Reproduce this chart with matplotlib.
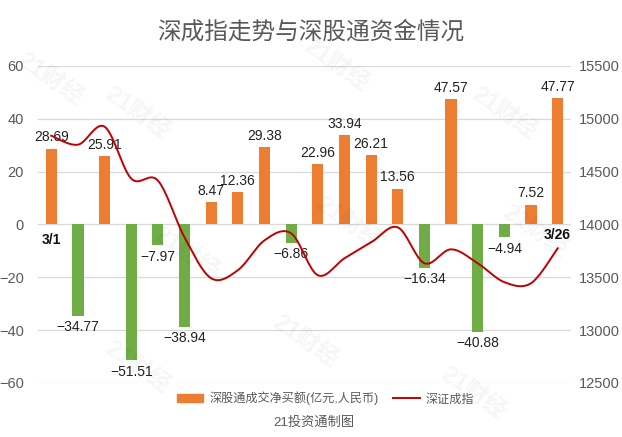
import numpy as np
import matplotlib
matplotlib.use("Agg")
import matplotlib.pyplot as plt

plt.rcParams['font.family'] = ['Liberation Sans', 'Noto Sans CJK SC', 'DejaVu Sans']

# trading days 2021-03-01 .. 03-26
dates = ['3/1', '3/2', '3/3', '3/4', '3/5', '3/8', '3/9', '3/10', '3/11', '3/12',
         '3/15', '3/16', '3/17', '3/18', '3/19', '3/22', '3/23', '3/24', '3/25', '3/26']
net_buy = [28.69, -34.77, 25.91, -51.51, -7.97, -38.94, 8.47, 12.36, 29.38, -6.86,
           22.96, 33.94, 26.21, 13.56, -16.34, 47.57, -40.88, -4.94, 7.52, 47.77]
szci = [14840, 14755, 14925, 14434, 14415, 13877, 13490, 13566, 13849, 13915,
        13519, 13679, 13830, 13972, 13632, 13764, 13632, 13453, 13443, 13774]

bar_name = '深股通成交净买额(亿元,人民币)'
line_name = '深证成指'
title = '深成指走势与深股通资金情况'
source = '21投资通制图'

ORANGE = '#ED7D31'
GREEN = '#70AD47'
RED = '#C00000'
GRAY = '#595959'


def catmull(x, y, n=20):
    # smooth curve through the points, like Excel's smoothed line
    x = np.asarray(x, float)
    y = np.asarray(y, float)
    px = np.concatenate([[x[0]], x, [x[-1]]])
    py = np.concatenate([[y[0]], y, [y[-1]]])
    xs, ys = [], []
    for i in range(1, len(px) - 2):
        t = np.linspace(0, 1, n, endpoint=False)
        for p, out in ((px, xs), (py, ys)):
            p0, p1, p2, p3 = p[i - 1], p[i], p[i + 1], p[i + 2]
            out.extend(0.5 * (2 * p1 + (-p0 + p2) * t
                              + (2 * p0 - 5 * p1 + 4 * p2 - p3) * t ** 2
                              + (-p0 + 3 * p1 - 3 * p2 + p3) * t ** 3))
    xs.append(x[-1])
    ys.append(y[-1])
    return np.array(xs), np.array(ys)


fig = plt.figure(figsize=(6.22, 4.37), dpi=100)
ax = fig.add_axes([0.061, 0.124, 0.857, 0.725])
ax2 = ax.twinx()

x = np.arange(len(dates))
colors = [ORANGE if v >= 0 else GREEN for v in net_buy]
ax.bar(x, net_buy, width=0.42, color=colors, zorder=2)
ax.set_ylim(-60, 60)
ax.set_yticks(np.arange(-60, 61, 20))
ax.set_xlim(-0.5, len(dates) - 0.5)
ax.set_xticks([])
ax.grid(axis='y', color='#d9d9d9', linewidth=0.9, zorder=0)
ax.set_axisbelow(True)

for xi, v in zip(x, net_buy):
    off = 3 if v >= 0 else -3
    ax.annotate(f'{v:.2f}'.replace('-', '\u2212'), (xi, v), xytext=(0, off),
                textcoords='offset points', ha='center',
                va='bottom' if v >= 0 else 'top', fontsize=10, color='#222222',
                zorder=5)

lx, ly = catmull(x, szci)
ax2.plot(lx, ly, color=RED, linewidth=1.4, zorder=3)
ax2.set_ylim(12500, 15500)
ax2.set_yticks(np.arange(12500, 15501, 500))

ax.text(x[0], -3.2, dates[0], ha='center', va='top', fontsize=10,
        fontweight='bold', color='#111111')
ax2.text(x[-1], 13830, dates[-1], ha='center', va='bottom', fontsize=10,
         fontweight='bold', color='#111111')

for a in (ax, ax2):
    for s in a.spines.values():
        s.set_visible(False)
    a.tick_params(length=0, labelsize=10.5, labelcolor=GRAY)
ax.tick_params(axis='y', pad=10)
ax2.tick_params(axis='y', pad=6)

fig.text(0.5, 0.925, title, ha='center', va='center', fontsize=17, color=GRAY)

# legend at the bottom
handles = [plt.Rectangle((0, 0), 1, 1, color=ORANGE),
           plt.Line2D([], [], color=RED, linewidth=1.4)]
fig.legend(handles, [bar_name, line_name], loc='center', bbox_to_anchor=(0.523, 0.088),
           ncol=2, frameon=False, fontsize=8.7, labelcolor=GRAY,
           handlelength=2.2, handleheight=0.6, columnspacing=1.2, handletextpad=0.5)
fig.text(0.505, 0.032, source, ha='center', va='center', fontsize=9.5, color=GRAY)

# faint watermarks
for wx, wy in [(0.08, 0.82), (0.22, 0.74), (0.54, 0.85), (0.81, 0.74),
               (0.30, 0.42), (0.56, 0.49), (0.86, 0.47), (0.22, 0.16),
               (0.49, 0.22), (0.76, 0.10)]:
    fig.text(wx, wy, '21财经', rotation=-35, ha='center', va='center',
             fontsize=17, fontweight='bold', color='#000000', alpha=0.04, zorder=0)

fig.savefig('out.png', dpi=100)
